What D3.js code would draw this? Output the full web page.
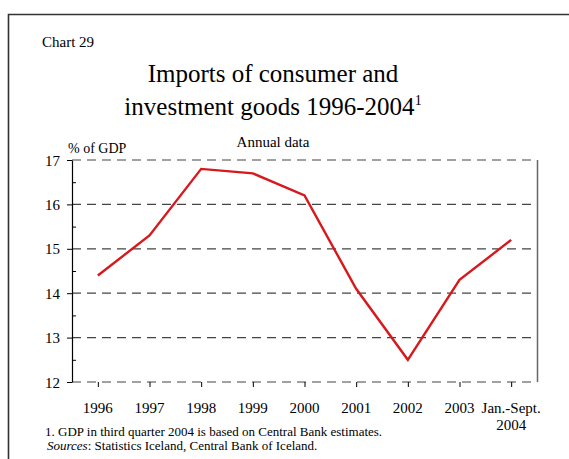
<!DOCTYPE html>
<html>
<head>
<meta charset="utf-8">
<script src="https://cdn.jsdelivr.net/npm/d3@7"></script>
<style>
	body { margin: 0; background: #fff; }
	text { font-family: "Liberation Serif", "Times New Roman", serif; fill: #000; }
</style>
</head>
<body>
<div id="chartDiv"></div>
<script>
const years = ['1996', '1997', '1998', '1999', '2000', '2001', '2002', '2003', '2004'];
const tickLabels = ['1996', '1997', '1998', '1999', '2000', '2001', '2002', '2003', ['Jan.-Sept.', '2004']];
const importShare = [14.4, 15.3, 16.8, 16.7, 16.2, 14.1, 12.5, 14.3, 15.2];
const yTicks = [12, 13, 14, 15, 16, 17];
const yMinorTicks = [12.5, 13.5, 14.5, 15.5, 16.5];

const width = 569,
	height = 459;

const margin = {
	top: 160,
	right: 32,
	bottom: 77,
	left: 72
};

let plotW = width - margin.left - margin.right,
	plotH = height - margin.top - margin.bottom;

let svg = d3.select('#chartDiv').append('svg')
	.attr('width', width)
	.attr('height', height);

// outer frame (runs off the right and bottom edges)
svg.append('path')
	.attr('d', `M8.5,${height + 2} V14.5 H${width + 2}`)
	.attr('fill', 'none')
	.attr('stroke', '#333')
	.attr('stroke-width', 1.6);

svg.append('text')
	.attr('x', 42).attr('y', 47)
	.style('font-size', '15px')
	.text('Chart 29');

let title = svg.append('text')
	.attr('text-anchor', 'middle')
	.style('font-size', '25px');
title.append('tspan').attr('x', 273).attr('y', 82).text('Imports of consumer and');
title.append('tspan').attr('x', 273).attr('y', 115).text('investment goods 1996-2004')
	.append('tspan').attr('dy', -10).style('font-size', '14px').text('1');

svg.append('text')
	.attr('x', 273).attr('y', 147)
	.attr('text-anchor', 'middle')
	.style('font-size', '15px')
	.text('Annual data');

svg.append('text')
	.attr('x', 68).attr('y', 153)
	.style('font-size', '14px')
	.text('% of GDP');

let g = svg.append('g')
	.attr('transform', `translate(${margin.left},${margin.top})`);

let xScale = d3.scalePoint()
	.domain(years)
	.range([0, plotW])
	.padding(0.5);

let yScale = d3.scaleLinear()
	.domain([12, 17])
	.range([plotH, 0]);

// dashed gridlines
g.selectAll('.grid')
	.data(yTicks)
	.join('line')
	.attr('class', 'grid')
	.attr('x1', 0).attr('x2', plotW)
	.attr('y1', d => yScale(d)).attr('y2', d => yScale(d))
	.attr('stroke', '#444')
	.attr('stroke-width', 1.2)
	.attr('stroke-dasharray', '9,6');

// right edge of plot
g.append('line')
	.attr('x1', plotW + 0.5).attr('x2', plotW + 0.5)
	.attr('y1', 0).attr('y2', plotH)
	.attr('stroke', '#666')
	.attr('stroke-width', 1.5);

// y axis: outward ticks at whole units, inward at half units
let yAxis = g.append('g')
	.call(d3.axisLeft(yScale)
		.tickValues(yTicks)
		.tickSize(5)
		.tickSizeOuter(0)
		.tickFormat(''));
yAxis.select('.domain').attr('stroke', '#000').attr('stroke-width', 1.2);
yAxis.selectAll('.tick line').attr('stroke', '#000');

g.append('g')
	.call(d3.axisRight(yScale)
		.tickValues(yMinorTicks)
		.tickSize(4)
		.tickFormat(''))
	.call(a => a.select('.domain').remove())
	.selectAll('.tick line').attr('stroke', '#000');

g.selectAll('.yLabel')
	.data(yTicks)
	.join('text')
	.attr('class', 'yLabel')
	.attr('x', -12)
	.attr('y', d => yScale(d) + 5.5)
	.attr('text-anchor', 'end')
	.style('font-size', '15px')
	.text(d => d);

// x axis with outward ticks
let xAxis = g.append('g')
	.attr('transform', `translate(0,${plotH})`)
	.call(d3.axisBottom(xScale).tickSize(5).tickSizeOuter(0).tickFormat(''));
xAxis.select('.domain').remove();
xAxis.selectAll('.tick line').attr('stroke', '#000');

let xLabels = g.selectAll('.xLabel')
	.data(years)
	.join('text')
	.attr('class', 'xLabel')
	.attr('text-anchor', 'middle')
	.style('font-size', '15px');
xLabels.each(function(d, i){
	let lbl = [].concat(tickLabels[i]);
	d3.select(this).selectAll('tspan')
		.data(lbl)
		.join('tspan')
		.attr('x', xScale(d))
		.attr('y', (t, j) => plotH + 31 + j * 17)
		.text(t => t);
});

// the series
let lineFn = d3.line()
	.x((d, i) => xScale(years[i]))
	.y(d => yScale(d));

g.append('path')
	.datum(importShare)
	.attr('d', lineFn)
	.attr('fill', 'none')
	.attr('stroke', '#d7191c')
	.attr('stroke-width', 2.4)
	.attr('stroke-linejoin', 'miter');

// footnotes
svg.append('text')
	.attr('x', 45).attr('y', 436)
	.style('font-size', '13px')
	.text('1. GDP in third quarter 2004 is based on Central Bank estimates.');

let src = svg.append('text')
	.attr('x', 47).attr('y', 450)
	.style('font-size', '13px');
src.append('tspan').style('font-style', 'italic').text('Sources');
src.append('tspan').text(': Statistics Iceland, Central Bank of Iceland.');
</script>
</body>
</html>
